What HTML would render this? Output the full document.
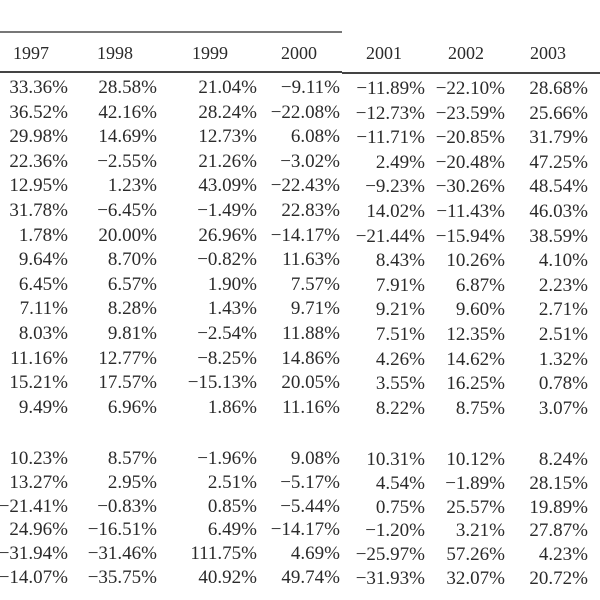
<!DOCTYPE html>
<html><head><meta charset="utf-8"><style>
body{margin:0;background:#fff;width:600px;height:600px;overflow:hidden;position:relative;font-family:"Liberation Serif",serif;color:#2a2a2a}
.c{position:absolute;font-size:19px;line-height:20px;white-space:nowrap;text-align:right;width:110px}
.h{position:absolute;font-size:18px;line-height:20px}
.r{position:absolute;background:#444}
</style></head><body>
<div class="r" style="left:0;top:31px;width:342px;height:2px;background:#777"></div>
<div class="r" style="left:0;top:71px;width:342px;height:2px"></div>
<div class="r" style="left:342px;top:72px;width:258px;height:2px"></div>
<script>
const years=["1997","1998","1999","2000","2001","2002","2003"];
const yearX=[13,97,192,281,366,448,530];
const colRight=[68,157,257,340,425,505,588];
const rows=[
["33.36%","28.58%","21.04%","−9.11%","−11.89%","−22.10%","28.68%"],
["36.52%","42.16%","28.24%","−22.08%","−12.73%","−23.59%","25.66%"],
["29.98%","14.69%","12.73%","6.08%","−11.71%","−20.85%","31.79%"],
["22.36%","−2.55%","21.26%","−3.02%","2.49%","−20.48%","47.25%"],
["12.95%","1.23%","43.09%","−22.43%","−9.23%","−30.26%","48.54%"],
["31.78%","−6.45%","−1.49%","22.83%","14.02%","−11.43%","46.03%"],
["1.78%","20.00%","26.96%","−14.17%","−21.44%","−15.94%","38.59%"],
["9.64%","8.70%","−0.82%","11.63%","8.43%","10.26%","4.10%"],
["6.45%","6.57%","1.90%","7.57%","7.91%","6.87%","2.23%"],
["7.11%","8.28%","1.43%","9.71%","9.21%","9.60%","2.71%"],
["8.03%","9.81%","−2.54%","11.88%","7.51%","12.35%","2.51%"],
["11.16%","12.77%","−8.25%","14.86%","4.26%","14.62%","1.32%"],
["15.21%","17.57%","−15.13%","20.05%","3.55%","16.25%","0.78%"],
["9.49%","6.96%","1.86%","11.16%","8.22%","8.75%","3.07%"],
["10.23%","8.57%","−1.96%","9.08%","10.31%","10.12%","8.24%"],
["13.27%","2.95%","2.51%","−5.17%","4.54%","−1.89%","28.15%"],
["−21.41%","−0.83%","0.85%","−5.44%","0.75%","25.57%","19.89%"],
["24.96%","−16.51%","6.49%","−14.17%","−1.20%","3.21%","27.87%"],
["−31.94%","−31.46%","111.75%","4.69%","−25.97%","57.26%","4.23%"],
["−14.07%","−35.75%","40.92%","49.74%","−31.93%","32.07%","20.72%"]];
function rowY(i){return i<14?88+i*24.6:459+(i-14)*23.8;}
years.forEach((y,j)=>{
  const d=document.createElement('div');d.className='h';
  
  
  d.style.left=yearX[j]+'px';d.style.top='43px';d.textContent=y;document.body.appendChild(d);
});
rows.forEach((r,i)=>{r.forEach((v,j)=>{
  const d=document.createElement('div');d.className='c';
  
  
  d.style.left=(colRight[j]-110)+'px';d.style.top=(rowY(i)-10+(j>3?1:0))+'px';d.textContent=v;document.body.appendChild(d);
});});
</script>
</body></html>
